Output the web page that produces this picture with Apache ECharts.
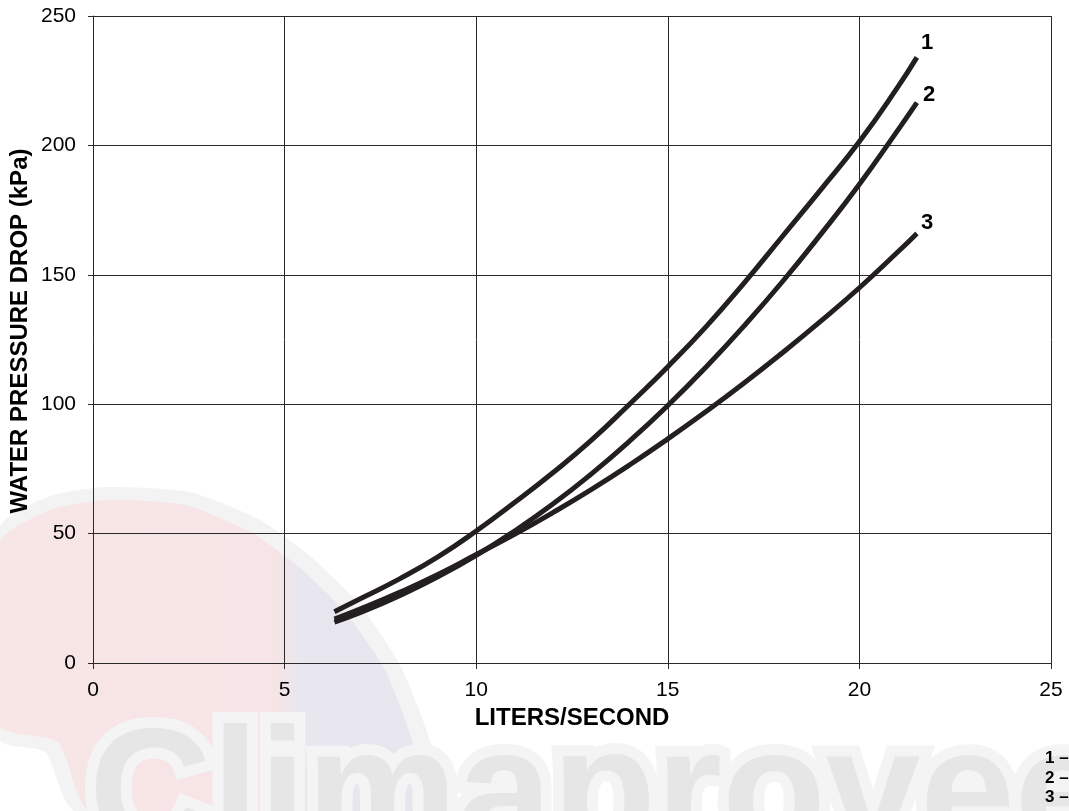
<!DOCTYPE html>
<html>
<head>
<meta charset="utf-8">
<script src="https://cdn.jsdelivr.net/npm/echarts@6/dist/echarts.min.js"></script>
<style>
  html, body { margin: 0; padding: 0; background: #fff; }
  #chart { width: 1069px; height: 811px; }
</style>
</head>
<body>
<div id="chart"></div>
<script>
// flow (liters/second) where each curve was read
const flow = [6.3, 7, 8, 9, 10, 11, 12, 13, 14, 15, 16, 17, 18, 19, 20, 21, 21.5]

// pressure drop (kPa)
const curve1 = [19.8, 25, 32.5, 41, 51, 62, 73.5, 86, 100, 114.5, 130, 147, 165, 183, 201.5, 222.5, 234]
const curve2 = [15.8, 19.6, 26, 33.3, 41.6, 51, 61.4, 73, 85.7, 99.5, 114.4, 130.4, 147.5, 165.8, 185, 205.8, 216.5]
const curve3 = [17, 21, 27.3, 34.2, 41.9, 49.7, 58.1, 67, 76.5, 86.6, 97.2, 108.3, 120, 132.2, 145, 158.8, 166]

const curveNames = ['1', '2', '3']
const labelOffsets = [[-4, -14], [-2, -8], [-4, -10]]

const xTicks = [0, 5, 10, 15, 20, 25]
const yTicks = [0, 50, 100, 150, 200, 250]

const legendLines = ['1 –', '2 –', '3 –']

const lineColor = '#231f20'
const font = 'Liberation Sans, Arial, sans-serif'

const pairs = (ys) => flow.map((x, i) => [x, ys[i]])

const makeSeries = (ys, idx) => ({
  name: curveNames[idx],
  type: 'line',
  smooth: true,
  showSymbol: false,
  silent: true,
  data: pairs(ys),
  lineStyle: { color: lineColor, width: 5, cap: 'butt' },
  endLabel: {
    show: true,
    formatter: curveNames[idx],
    color: '#000',
    fontFamily: font,
    fontWeight: 'bold',
    fontSize: 22,
    offset: labelOffsets[idx]
  },
  z: 5
})

// faint logo behind the plot (pink/blue fin + big lettering)
const finFill = {
  type: 'linear',
  x: 0, y: 0, x2: 430, y2: 0,
  global: true,
  colorStops: [
    { offset: 0, color: '#f8e6e7' },
    { offset: 0.64, color: '#f6e4e6' },
    { offset: 0.7, color: '#e8e7ef' },
    { offset: 1, color: '#e6e6ee' }
  ]
}

const finOuter = [[0, 527], [50, 496], [107, 487], [190, 492], [260, 520], [310, 556], [360, 605],
  [400, 665], [430, 740], [445, 811], [75, 811], [45, 752], [0, 740]]
const finInner = [[0, 542], [50, 510], [107, 500], [185, 505], [250, 532], [298, 566], [345, 612],
  [385, 670], [412, 740], [428, 811], [90, 811], [58, 742], [0, 726]]

const watermark = [
  {
    type: 'polygon',
    z: -20,
    silent: true,
    shape: { points: finOuter, smooth: 0.2 },
    style: { fill: '#f3f3f3' }
  },
  {
    type: 'polygon',
    z: -19,
    silent: true,
    shape: { points: finInner, smooth: 0.2 },
    style: { fill: finFill }
  },
  {
    type: 'text',
    left: 78,
    top: 704,
    z: -18,
    silent: true,
    style: {
      text: 'Climaprovee',
      fontFamily: font,
      fontWeight: 'bold',
      fontSize: 170,
      fill: '#e6e6e6',
      stroke: '#f4f4f4',
      lineWidth: 22
    }
  }
]

const chart = echarts.init(document.getElementById('chart'))

chart.setOption({
  animation: false,
  backgroundColor: '#fff',
  grid: { left: 93, right: 18, top: 16, bottom: 148, containLabel: false },
  graphic: [
    ...watermark,
    {
      type: 'text',
      x: 20,
      y: 331,
      rotation: Math.PI / 2,
      silent: true,
      style: {
        text: 'WATER PRESSURE DROP (kPa)',
        fontFamily: font,
        fontWeight: 'bold',
        fontSize: 24,
        fill: '#000',
        align: 'center',
        verticalAlign: 'middle'
      }
    },
    ...legendLines.map((t, i) => ({
      type: 'text',
      left: 1045,
      top: 750 + i * 19.5,
      silent: true,
      style: {
        text: t,
        fontFamily: font,
        fontWeight: 'bold',
        fontSize: 17,
        fill: '#000'
      }
    }))
  ],
  xAxis: {
    type: 'value',
    min: xTicks[0],
    max: xTicks[xTicks.length - 1],
    interval: 5,
    name: 'LITERS/SECOND',
    nameLocation: 'middle',
    nameGap: 43,
    nameTextStyle: { color: '#000', fontFamily: font, fontWeight: 'bold', fontSize: 24 },
    axisLine: { lineStyle: { color: '#2a2a2a', width: 1 } },
    axisTick: { show: true, length: 6, lineStyle: { color: '#2a2a2a' } },
    axisLabel: { color: '#000', fontFamily: font, fontSize: 21, margin: 17 },
    splitLine: { show: true, lineStyle: { color: '#2a2a2a', width: 1 } }
  },
  yAxis: {
    type: 'value',
    min: yTicks[0],
    max: yTicks[yTicks.length - 1],
    interval: 50,
    axisLine: { show: true, lineStyle: { color: '#2a2a2a', width: 1 } },
    axisTick: { show: true, length: 5, lineStyle: { color: '#2a2a2a' } },
    axisLabel: { color: '#000', fontFamily: font, fontSize: 21, margin: 17 },
    splitLine: { show: true, lineStyle: { color: '#2a2a2a', width: 1 } }
  },
  series: [curve1, curve2, curve3].map(makeSeries)
})
</script>
</body>
</html>
